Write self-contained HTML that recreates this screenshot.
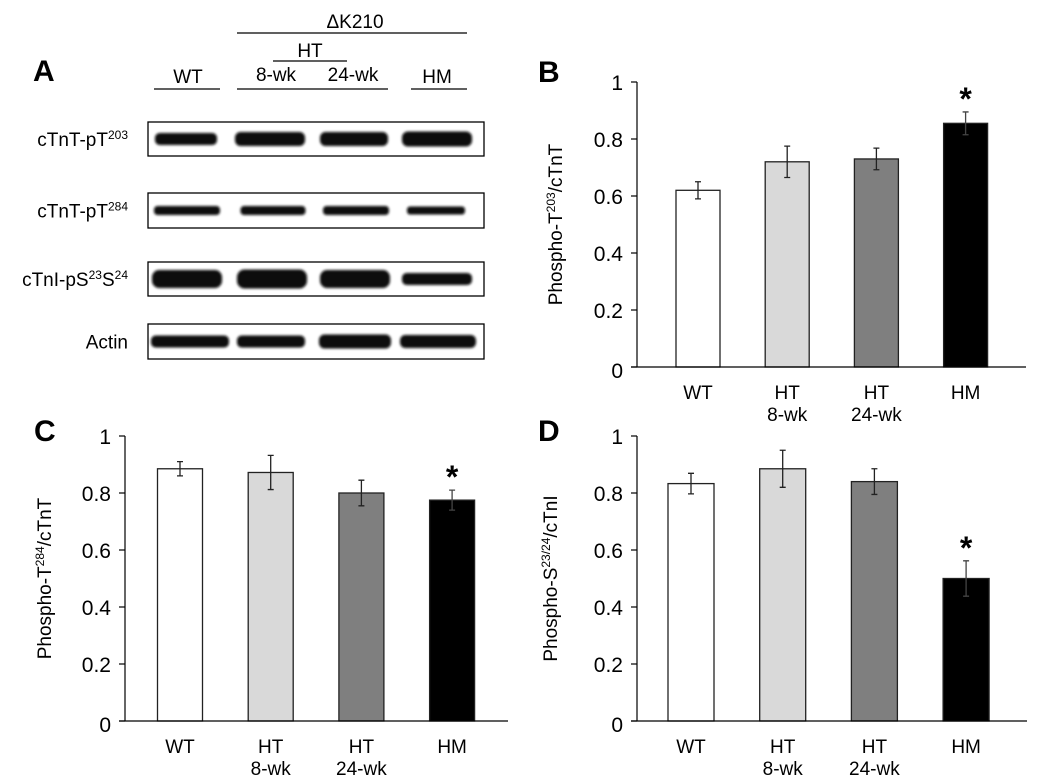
<!DOCTYPE html>
<html><head><meta charset="utf-8"><style>
body{margin:0;background:#fff;}
svg{display:block;font-family:"Liberation Sans",Arial,sans-serif;}
</style></head><body>
<svg id="fig" width="1050" height="784" viewBox="0 0 1050 784">
<defs><filter id="bl" x="-10%" y="-50%" width="120%" height="200%"><feGaussianBlur stdDeviation="1.4"/></filter></defs>
<g id="panelA">
 <text x="33" y="81" font-size="30" font-weight="bold">A</text>
 <text x="355" y="28" font-size="19" text-anchor="middle">ΔK210</text>
 <line x1="237" y1="33" x2="467" y2="33" stroke="#000" stroke-width="1.3"/>
 <text x="310" y="57" font-size="19" text-anchor="middle">HT</text>
 <line x1="273" y1="61" x2="347" y2="61" stroke="#000" stroke-width="1.3"/>
 <text x="188" y="83" font-size="19" text-anchor="middle">WT</text>
 <text x="276" y="81" font-size="19" text-anchor="middle">8-wk</text>
 <text x="353" y="81" font-size="19" text-anchor="middle">24-wk</text>
 <text x="437" y="83" font-size="19" text-anchor="middle">HM</text>
 <line x1="154" y1="89" x2="220" y2="89" stroke="#000" stroke-width="1.3"/>
 <line x1="237" y1="89" x2="388" y2="89" stroke="#000" stroke-width="1.3"/>
 <line x1="411" y1="89" x2="467" y2="89" stroke="#000" stroke-width="1.3"/>
 <g id="blots"></g>
</g>
<g id="charts"></g>
</svg>
<script>
const NS="http://www.w3.org/2000/svg";
function mk(parent,tag,attrs){const e=document.createElementNS(NS,tag);for(const k in attrs)e.setAttribute(k,attrs[k]);parent.appendChild(e);return e;}

const blotRows=[{y:122,h:34,lab:'cTnT-pT<tspan font-size="12" dy="-7">203</tspan>',b:[[186,62,12],[270,70,14],[354,68,14],[437,70,15]]},
{y:193,h:35,lab:'cTnT-pT<tspan font-size="12" dy="-7">284</tspan>',b:[[187,66,9],[273,65,9],[356,66,9],[436,58,8]]},
{y:262,h:34,lab:'cTnI-pS<tspan font-size="12" dy="-7">23</tspan><tspan dy="7">S</tspan><tspan font-size="12" dy="-7">24</tspan>',b:[[187,70,18],[272,70,19],[355,70,18],[437,70,12]]},
{y:324,h:35,lab:'Actin',b:[[190,78,12],[271,68,12],[355,72,14],[438,76,13]]}];
const bg=document.getElementById('blots');
blotRows.forEach((r,i)=>{
 const t=mk(bg,'text',{x:128,y:r.y+r.h/2+7,'font-size':19,'text-anchor':'end'});t.innerHTML=r.lab;
 
 
 const box=mk(bg,'rect',{x:148,y:r.y,width:336,height:r.h,fill:'#fff',stroke:'#000','stroke-width':1.3});
 
 
 r.b.forEach(b=>{
  const e=mk(bg,'rect',{x:b[0]-b[1]/2,y:r.y+r.h/2-b[2]/2,width:b[1],height:b[2],rx:b[2]/2.5,fill:'#0a0a0a',filter:'url(#bl)'});
  
  
 });
});

const categories=["WT","HT|8-wk","HT|24-wk","HM"];
const barColors=["#ffffff","#d9d9d9","#7f7f7f","#000000"];
const yTicks=[0,0.2,0.4,0.6,0.8,1];
const tickLabels=["0","0.2","0.4","0.6","0.8","1"];
const valuesB=[0.62,0.72,0.73,0.855];
const errorsB=[0.03,0.055,0.038,0.04];
const valuesC=[0.885,0.872,0.80,0.775];
const errorsC=[0.025,0.06,0.045,0.035];
const valuesD=[0.833,0.885,0.84,0.50];
const errorsD=[0.036,0.065,0.045,0.062];
const sigB=[false,false,false,true];
const sigC=[false,false,false,true];
const sigD=[false,false,false,true];

const panels=[
 {id:'b',letter:'B',lx:538,ly:82,ax:637,y0:367,y1:82,xend:1026,bx0:698,step:89.2,bw:44,vals:valuesB,errs:errorsB,sig:sigB,title:'Phospho-T<tspan font-size="12" dy="-7">203</tspan><tspan dy="7">/cTnT</tspan>',tx:562},
 {id:'c',letter:'C',lx:34,ly:441,ax:125,y0:721,y1:436,xend:508,bx0:180,step:90.7,bw:45,vals:valuesC,errs:errorsC,sig:sigC,title:'Phospho-T<tspan font-size="12" dy="-7">284</tspan><tspan dy="7">/cTnT</tspan>',tx:51},
 {id:'d',letter:'D',lx:538,ly:441,ax:637,y0:721,y1:436,xend:1027,bx0:691,step:91.7,bw:46,vals:valuesD,errs:errorsD,sig:sigD,title:'Phospho-S<tspan font-size="12" dy="-7">23/24</tspan><tspan dy="7">/cTnI</tspan>',tx:557}
];
const cg=document.getElementById('charts');
panels.forEach(p=>{
 const g=mk(cg,'g',{});
 
 
 const yS=v=>p.y0-(p.y0-p.y1)*v;
 const L=mk(g,'text',{x:p.lx,y:p.ly,'font-size':30,'font-weight':'bold'});L.textContent=p.letter;
 
 
 const t=mk(g,'text',{transform:`translate(${p.tx},${(p.y0+p.y1)/2}) rotate(-90)`,'font-size':19,'text-anchor':'middle'});t.innerHTML=p.title;
 
 
 const ya=mk(g,'line',{x1:p.ax,y1:p.y1,x2:p.ax,y2:p.y0,stroke:'#000','stroke-width':1.2});
 
 
 yTicks.forEach((v,i)=>{
  mk(g,'line',{x1:p.ax-6,y1:yS(v),x2:p.ax,y2:yS(v),stroke:'#000','stroke-width':1.2});
  const tl=mk(g,'text',{x:p.ax-14,y:yS(v)+(v==0?11:8),'font-size':21,'text-anchor':'end'});tl.textContent=tickLabels[i];
  
  
 });
 categories.forEach((c,i)=>{
  const cx=p.bx0+i*p.step;const v=p.vals[i],e=p.errs[i];
  const r=mk(g,'rect',{x:cx-p.bw/2,y:yS(v),width:p.bw,height:yS(0)-yS(v),fill:barColors[i],stroke:'#222','stroke-width':1.3});
  
  
  const eb=mk(g,'path',{d:`M${cx},${yS(v+e)}V${yS(v-e)}M${cx-3},${yS(v+e)}H${cx+3}M${cx-3},${yS(v-e)}H${cx+3}`,stroke:i==3?'#444':'#222','stroke-width':1.3,fill:'none'});
  
  
  if(p.sig[i]){const s=mk(g,'text',{x:cx,y:yS(v+e)-2,'font-size':32,'font-weight':'bold','text-anchor':'middle'});s.textContent='*';
   
   }
  const parts=c.split('|');
  parts.forEach((pt,j)=>{const xl=mk(g,'text',{x:cx,y:p.y0+32+j*22,'font-size':19,'text-anchor':'middle'});xl.textContent=pt;
   
   });
 });
 const xa=mk(g,'line',{x1:p.ax-6,y1:p.y0,x2:p.xend,y2:p.y0,stroke:'#000','stroke-width':1.2});
 
 
});
</script>
</body></html>
